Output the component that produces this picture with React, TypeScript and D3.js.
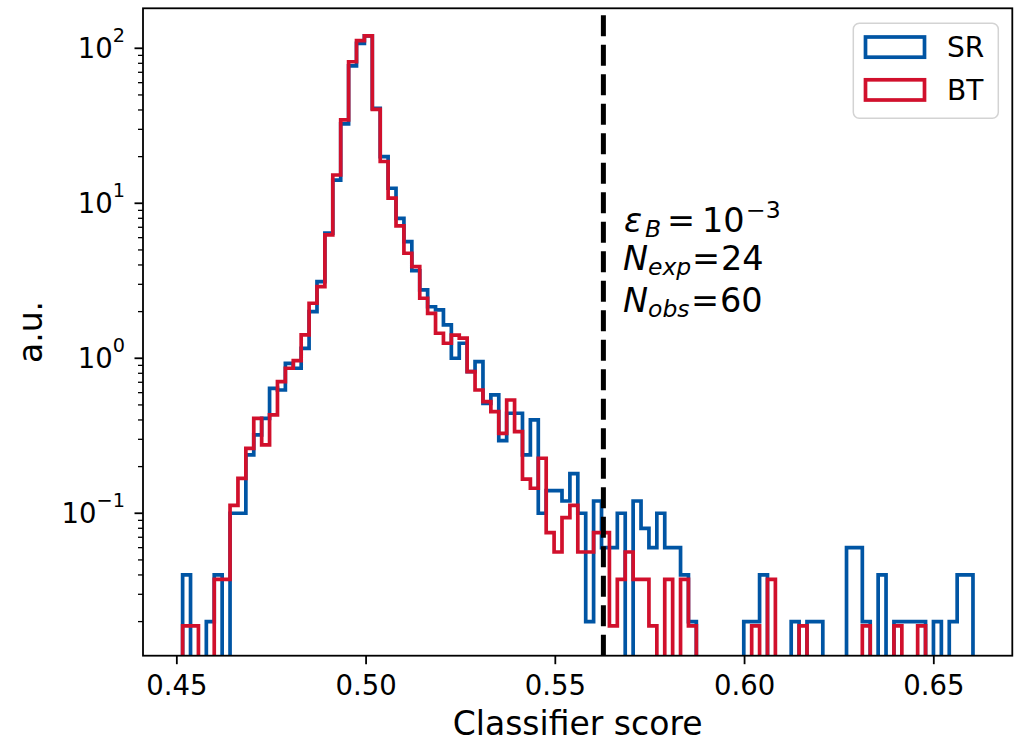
import React from "react";
import * as d3 from "d3";

// ---------- data ----------
const BIN_COUNT = 100;
const BIN_LO = 0.45153;
const BIN_HI = 0.66035;

const srValues: number[] = [
  0.04, 0, 0, 0.02, 0.04, 0, 0.1, 0.1, 0.238, 0.32,
  0.41, 0.64, 0.624, 0.928, 0.862, 1.16, 2.0, 3.12, 6.41, 14.1,
  32.5, 76.9, 107.7, 120.1, 41.0, 20.0, 12.5, 8.0, 5.65, 3.67,
  2.76, 2.15, 2.05, 1.64, 1.0, 1.25, 0.82, 0.95, 0.512, 0.58,
  0.294, 0.442, 0.442, 0.238, 0.4, 0.1, 0.14, 0.14, 0.12, 0.18,
  0.1, 0.02, 0.12, 0.06, 0.06, 0.1, 0, 0.12, 0.08, 0.06,
  0.1, 0.06, 0.06, 0.04, 0.02, 0, 0, 0, 0, 0,
  0, 0.02, 0.02, 0.04, 0, 0, 0, 0.02, 0, 0.02,
  0.02, 0, 0, 0, 0.06, 0.06, 0.02, 0, 0.04, 0,
  0.02, 0.02, 0.02, 0.02, 0, 0.02, 0, 0.02, 0.04, 0.04,
];

const btValues: number[] = [
  0.01875, 0.01875, 0, 0, 0.0375, 0.0375, 0.1125, 0.168, 0.2626, 0.41,
  0.276, 0.431, 0.7065, 0.862, 0.965, 1.414, 2.264, 2.897, 6.245, 15.22,
  34.5, 81.9, 111.9, 120.1, 40.4, 18.6, 10.8, 7.14, 4.76, 3.9,
  2.44, 1.95, 1.45, 1.25, 1.41, 1.35, 0.82, 0.624, 0.525, 0.452,
  0.328, 0.538, 0.336, 0.166, 0.145, 0.2264, 0.075, 0.05625, 0.09375, 0.1125,
  0.05625, 0.05625, 0.075, 0.075, 0.01875, 0.0375, 0.05625, 0.0375, 0.0375, 0.01875,
  0, 0.0375, 0, 0.0375, 0.01875, 0, 0, 0, 0, 0,
  0, 0, 0.01875, 0, 0.0375, 0, 0, 0, 0.01875, 0,
  0, 0, 0, 0, 0, 0, 0.01875, 0, 0, 0,
  0.01875, 0, 0, 0.01875, 0, 0, 0, 0, 0, 0,
];

const seriesNames = ["SR", "BT"];
const seriesColors = ["#0055a4", "#d1102c"];

const xTicks = [0.45, 0.5, 0.55, 0.6, 0.65];
const yMajorExponents = [-1, 0, 1, 2];
const cutValue = 0.5627;

const X_DOMAIN: [number, number] = [0.44106, 0.67074];
const Y_DOMAIN: [number, number] = [Math.pow(10, -1.919), Math.pow(10, 2.258)];

// ---------- layout ----------
const W = 1017;
const H = 744;
const PL = 143;
const PR = 1012.3;
const PT = 8.3;
const PB = 655.7;
const FONT = "'DejaVu Sans', 'Liberation Sans', sans-serif";

export default function App() {
  const x = d3.scaleLinear().domain(X_DOMAIN).range([PL, PR]);
  const y = d3.scaleLog().domain(Y_DOMAIN).range([PB, PT]);
  const edges = d3.range(BIN_COUNT + 1).map((i) => BIN_LO + ((BIN_HI - BIN_LO) * i) / BIN_COUNT);

  const yv = (v: number) => (v > 0 ? y(v) : PB + 30);

  const stepPath = (vals: number[]) => {
    const pts: [number, number][] = [[x(edges[0]), PB + 30]];
    vals.forEach((v, i) => {
      pts.push([x(edges[i]), yv(v)]);
      pts.push([x(edges[i + 1]), yv(v)]);
    });
    pts.push([x(edges[BIN_COUNT]), PB + 30]);
    return d3.line()(pts) as string;
  };

  const minorTicks: number[] = [];
  for (let e = -3; e <= 2; e++) {
    for (let m = 2; m <= 9; m++) {
      const v = m * Math.pow(10, e);
      if (v >= Y_DOMAIN[0] && v <= Y_DOMAIN[1]) minorTicks.push(v);
    }
  }

  const fmt = d3.format(".2f");
  const series = [srValues, btValues];

  return (
    <svg
      width={W}
      height={H}
      style={{ position: "absolute", left: 0, top: 0, background: "#fff" }}
      fontFamily={FONT}
    >
      <defs>
        <clipPath id="plotClip">
          <rect x={PL} y={PT} width={PR - PL} height={PB - PT} />
        </clipPath>
      </defs>
      <rect x={0} y={0} width={W} height={H} fill="#fff" />

      <g clipPath="url(#plotClip)">
        {series.map((vals, k) => (
          <path
            key={seriesNames[k]}
            d={stepPath(vals)}
            fill="none"
            stroke={seriesColors[k]}
            strokeWidth={3.7}
            strokeLinejoin="miter"
          />
        ))}
        <line
          x1={x(cutValue)}
          x2={x(cutValue)}
          y1={PB}
          y2={PT}
          stroke="#000"
          strokeWidth={5}
          strokeDasharray="21 8.5"
        />
      </g>

      {/* annotation */}
      <g fill="#000" fontSize={33.5}>
        <text y={232}>
          <tspan x={624} fontStyle="italic">ε</tspan>
          <tspan x={645} dy={5} fontSize={23.5} fontStyle="italic">B</tspan>
          <tspan x={667} dy={-5}>=</tspan>
          <tspan x={702}>10</tspan>
          <tspan x={746} dy={-14} fontSize={23.5}>−3</tspan>
        </text>
        <text y={270}>
          <tspan x={623} fontStyle="italic">N</tspan>
          <tspan x={648} dy={5} fontSize={23.5} fontStyle="italic">exp</tspan>
          <tspan x={692} dy={-5}>=</tspan>
          <tspan x={721}>24</tspan>
        </text>
        <text y={311.5}>
          <tspan x={623} fontStyle="italic">N</tspan>
          <tspan x={648} dy={5} fontSize={23.5} fontStyle="italic">obs</tspan>
          <tspan x={691} dy={-5}>=</tspan>
          <tspan x={720}>60</tspan>
        </text>
      </g>

      {/* legend */}
      <g>
        <rect x={853.3} y={23.3} width={145} height={95} rx={6} fill="#fff" fillOpacity={0.8} stroke="#d3d3d3" strokeWidth={1.5} />
        {seriesNames.map((name, k) => (
          <g key={name}>
            <rect
              x={865.5}
              y={37 + k * 42.8}
              width={59}
              height={20.2}
              fill="none"
              stroke={seriesColors[k]}
              strokeWidth={3.7}
            />
            <text x={947} y={57.3 + k * 42.7} fontSize={28} fill="#000">
              {name}
            </text>
          </g>
        ))}
      </g>

      {/* axes frame */}
      <rect x={PL} y={PT} width={PR - PL} height={PB - PT} fill="none" stroke="#000" strokeWidth={1.8} />

      {/* x ticks */}
      {xTicks.map((t) => (
        <g key={t}>
          <line x1={x(t)} x2={x(t)} y1={PB} y2={PB + 8.5} stroke="#000" strokeWidth={1.8} />
          <text x={x(t)} y={695} textAnchor="middle" fontSize={27.5} fill="#000">
            {fmt(t)}
          </text>
        </g>
      ))}

      {/* y ticks */}
      {minorTicks.map((v) => (
        <line key={"m" + v} x1={PL - 5} x2={PL} y1={y(v)} y2={y(v)} stroke="#000" strokeWidth={1.3} />
      ))}
      {yMajorExponents.map((e) => {
        const v = Math.pow(10, e);
        const ty = y(v);
        return (
          <g key={"M" + e}>
            <line x1={PL - 8.5} x2={PL} y1={ty} y2={ty} stroke="#000" strokeWidth={1.8} />
            <text x={125} y={ty + 10} textAnchor="end" fontSize={27.5} fill="#000">
              10
              <tspan dy={-16} fontSize={19.3}>
                {e < 0 ? "−" + Math.abs(e) : String(e)}
              </tspan>
            </text>
          </g>
        );
      })}

      {/* axis labels */}
      <text x={(PL + PR) / 2} y={735} textAnchor="middle" fontSize={33} fill="#000">
        Classifier score
      </text>
      <text
        transform={`translate(42, ${(PT + PB) / 2}) rotate(-90)`}
        textAnchor="middle"
        fontSize={33}
        fill="#000"
      >
        a.u.
      </text>
    </svg>
  );
}
